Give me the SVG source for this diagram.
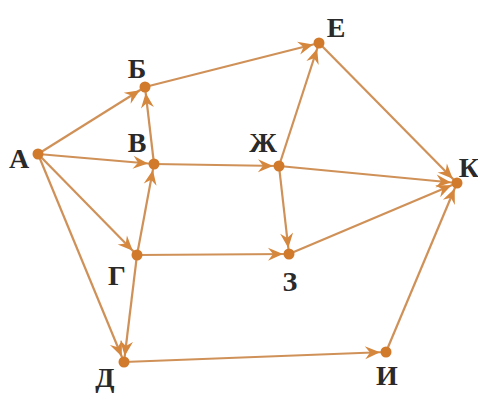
<svg xmlns="http://www.w3.org/2000/svg" width="478" height="396" viewBox="0 0 478 396">
<defs>
<style>
.e{stroke:#cf9158;stroke-width:2.2;fill:none;marker-end:url(#ah)}
.d{fill:#d27a2c}
.t{font-family:"Liberation Serif","Times New Roman",serif;font-size:28px;font-weight:bold;fill:#2a2a2a;text-anchor:middle}
</style>
<marker id="ah" markerUnits="userSpaceOnUse" markerWidth="30" markerHeight="20" refX="0" refY="0" orient="auto" overflow="visible">
<path d="M-6,0 L-21,-6.5 L-16,0 L-21,6.5 Z" fill="#d5873d"/>
</marker>
</defs>
<rect width="478" height="396" fill="#ffffff"/>
<g id="edges">
<line class="e" x1="38" y1="154" x2="145" y2="87"/>
<line class="e" x1="38" y1="154" x2="154" y2="164"/>
<line class="e" x1="38" y1="154" x2="137" y2="255"/>
<line class="e" x1="38" y1="154" x2="124" y2="362"/>
<line class="e" x1="154" y1="164" x2="145" y2="87"/>
<line class="e" x1="145" y1="87" x2="319" y2="43"/>
<line class="e" x1="154" y1="164" x2="279" y2="166"/>
<line class="e" x1="137" y1="255" x2="154" y2="164"/>
<line class="e" x1="137" y1="255" x2="289" y2="254"/>
<line class="e" x1="137" y1="255" x2="124" y2="362"/>
<line class="e" x1="279" y1="166" x2="319" y2="43"/>
<line class="e" x1="279" y1="166" x2="457" y2="183"/>
<line class="e" x1="279" y1="166" x2="289" y2="254"/>
<line class="e" x1="319" y1="43" x2="457" y2="183"/>
<line class="e" x1="289" y1="254" x2="457" y2="183"/>
<line class="e" x1="124" y1="362" x2="386" y2="352"/>
<line class="e" x1="386" y1="352" x2="457" y2="183"/>
</g>
<g id="nA"><circle class="d" cx="38" cy="154" r="5.5"/><text class="t" x="19" y="168">А</text></g>
<g id="nB"><circle class="d" cx="145" cy="87" r="5.5"/><text class="t" x="137" y="78">Б</text></g>
<g id="nV"><circle class="d" cx="154" cy="164" r="5.5"/><text class="t" x="137" y="152">В</text></g>
<g id="nE"><circle class="d" cx="319" cy="43" r="5.5"/><text class="t" x="336" y="37">Е</text></g>
<g id="nZh"><circle class="d" cx="279" cy="166" r="5.5"/><text class="t" x="263" y="152">Ж</text></g>
<g id="nK"><circle class="d" cx="457" cy="183" r="5.5"/><text class="t" x="469" y="177">К</text></g>
<g id="nG"><circle class="d" cx="137" cy="255" r="5.5"/><text class="t" x="117" y="285">Г</text></g>
<g id="nZ"><circle class="d" cx="289" cy="254" r="5.5"/><text class="t" x="290" y="291">З</text></g>
<g id="nD"><circle class="d" cx="124" cy="362" r="5.5"/><text class="t" x="105" y="387">Д</text></g>
<g id="nI"><circle class="d" cx="386" cy="352" r="5.5"/><text class="t" x="387" y="385">И</text></g>
</svg>
